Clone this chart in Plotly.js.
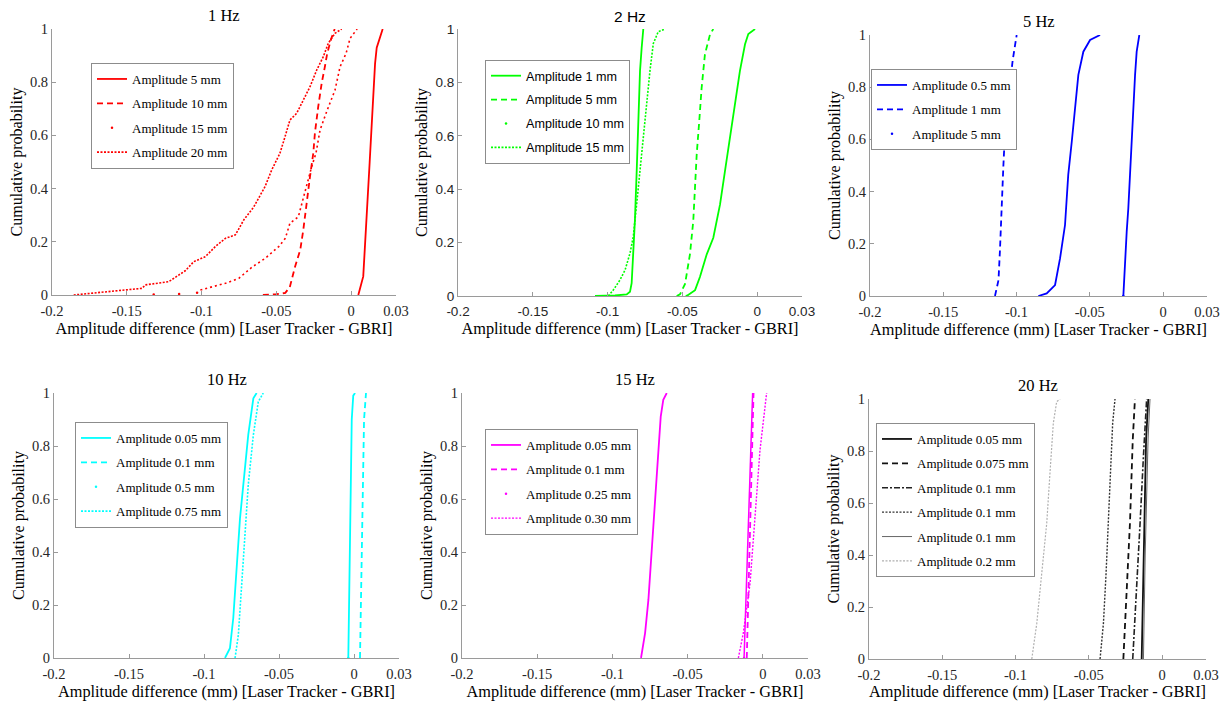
<!DOCTYPE html>
<html><head><meta charset="utf-8">
<script src="https://cdn.plot.ly/plotly-3.0.1.min.js"></script>
<style>html,body{margin:0;padding:0;background:#fff}#chart{width:1227px;height:701px}</style>
</head><body><div id="chart"></div>
<script>
// ---------- tick labels ----------
const xTickVals = [-0.2, -0.15, -0.1, -0.05, 0, 0.03];
const xTickText = ['-0.2', '-0.15', '-0.1', '-0.05', '0', '0.03'];
const yTickVals = [0, 0.2, 0.4, 0.6, 0.8, 1];
const yTickText = ['0', '0.2', '0.4', '0.6', '0.8', '1'];
const panelTitles = ['1 Hz', '2 Hz', '5 Hz', '10 Hz', '15 Hz', '20 Hz'];
const xTitle = 'Amplitude difference (mm) [Laser Tracker - GBRI]';
const yTitle = 'Cumulative probability';

// ---------- 1 Hz ----------
const hz1_a5_x = [0.0048, 0.0081, 0.0124, 0.0160, 0.0171, 0.0193, 0.0211];
const hz1_a5_y = [0, 0.07, 0.5, 0.87, 0.93, 0.97, 1];
const hz1_a10_x = [-0.059, -0.050, -0.044, -0.041, -0.0375, -0.034, -0.032, -0.0297, -0.0275, -0.0253, -0.0242, -0.022, -0.0197, -0.0175, -0.016, -0.0135, -0.011];
const hz1_a10_y = [0, 0.003, 0.008, 0.03, 0.106, 0.17, 0.244, 0.357, 0.445, 0.533, 0.61, 0.708, 0.796, 0.86, 0.908, 0.96, 1];
const hz1_a15_iso_x = [-0.132, -0.115, -0.103];
const hz1_a15_iso_y = [0.002, 0.004, 0.008];
const hz1_a15_x = [-0.1008, -0.093, -0.084, -0.075, -0.066, -0.0574, -0.0484, -0.044, -0.0409, -0.0353, -0.033, -0.0297, -0.0264, -0.0235, -0.0208, -0.016, -0.0108, -0.0074, -0.0034, -0.0007, 0.004];
const hz1_a15_y = [0.019, 0.031, 0.044, 0.063, 0.106, 0.138, 0.182, 0.213, 0.27, 0.294, 0.345, 0.42, 0.482, 0.533, 0.62, 0.695, 0.77, 0.858, 0.908, 0.965, 1];
const hz1_a20_x = [-0.1855, -0.173, -0.1577, -0.151, -0.1398, -0.1376, -0.122, -0.1153, -0.1109, -0.1053, -0.0975, -0.0908, -0.0841, -0.0774, -0.0718, -0.0652, -0.0576, -0.0531, -0.0476, -0.0442, -0.0409, -0.0364, -0.033, -0.0275, -0.023, -0.0186, -0.0153, -0.0108, -0.0063];
const hz1_a20_y = [0, 0.006, 0.013, 0.019, 0.025, 0.038, 0.05, 0.075, 0.091, 0.125, 0.144, 0.182, 0.213, 0.226, 0.282, 0.33, 0.407, 0.47, 0.533, 0.595, 0.658, 0.683, 0.72, 0.783, 0.846, 0.896, 0.946, 0.984, 1];

// ---------- 2 Hz ----------
const hz2_a1_x = [-0.1084, -0.095, -0.0872, -0.085, -0.0839, -0.0828, -0.0817, -0.0805, -0.0795, -0.0783, -0.0772, -0.0761];
const hz2_a1_y = [0, 0.002, 0.006, 0.016, 0.048, 0.16, 0.285, 0.472, 0.655, 0.843, 0.93, 1];
const hz2_a5_x = [-0.0538, -0.0516, -0.0482, -0.0449, -0.0427, -0.0415, -0.0404, -0.0387, -0.0371, -0.0349, -0.0315, -0.0293];
const hz2_a5_y = [0, 0.006, 0.045, 0.157, 0.281, 0.406, 0.531, 0.655, 0.78, 0.905, 0.98, 1];
const hz2_a10_x = [-0.0471, -0.0415, -0.0382, -0.0337, -0.0293, -0.0248, -0.0215, -0.0181, -0.0148, -0.0115, -0.0081, -0.0059, -0.0014];
const hz2_a10_y = [0, 0.022, 0.072, 0.156, 0.218, 0.343, 0.468, 0.593, 0.718, 0.843, 0.943, 0.981, 1];
const hz2_a15_x = [-0.0995, -0.0962, -0.0917, -0.0883, -0.085, -0.0828, -0.0805, -0.0783, -0.0761, -0.0738, -0.0716, -0.0694, -0.0661, -0.0616];
const hz2_a15_y = [0, 0.022, 0.06, 0.097, 0.16, 0.222, 0.347, 0.472, 0.597, 0.721, 0.846, 0.946, 0.99, 1];

// ---------- 5 Hz ----------
const hz5_a05_x = [-0.0851, -0.0794, -0.0737, -0.0703, -0.0669, -0.0647, -0.0623, -0.0601, -0.0578, -0.0544, -0.0498, -0.043];
const hz5_a05_y = [0, 0.01, 0.042, 0.144, 0.272, 0.464, 0.591, 0.719, 0.847, 0.936, 0.981, 1];
const hz5_a1_x = [-0.1147, -0.1123, -0.1113, -0.1101, -0.109, -0.1079, -0.1063, -0.1044, -0.1026, -0.0999];
const hz5_a1_y = [0, 0.061, 0.176, 0.368, 0.495, 0.623, 0.75, 0.814, 0.904, 1];
const hz5_a5_x = [-0.0271, -0.026, -0.0248, -0.0237, -0.0226, -0.0214, -0.0203, -0.0191, -0.018, -0.0162];
const hz5_a5_y = [0, 0.144, 0.247, 0.336, 0.464, 0.591, 0.719, 0.847, 0.936, 1];

// ---------- 10 Hz ----------
const hz10_a005_x = [-0.086, -0.0827, -0.0805, -0.0782, -0.076, -0.0738, -0.0705, -0.0671, -0.0649];
const hz10_a005_y = [0, 0.037, 0.15, 0.339, 0.527, 0.653, 0.842, 0.98, 1];
const hz10_a01_x = [0.004, 0.0058, 0.0067, 0.008];
const hz10_a01_y = [0, 0.527, 0.9, 1];
const hz10_a05_x = [-0.0038, -0.0027, -0.0015, -0.0005, 0.0007];
const hz10_a05_y = [0, 0.4, 0.9, 0.99, 1];
const hz10_a075_x = [-0.0793, -0.0771, -0.0749, -0.0727, -0.0705, -0.0671, -0.0638, -0.0605];
const hz10_a075_y = [0, 0.087, 0.275, 0.464, 0.653, 0.842, 0.967, 1];

// ---------- 15 Hz ----------
const hz15_a005_x = [-0.081, -0.0783, -0.0761, -0.0739, -0.0717, -0.0695, -0.0679, -0.0662, -0.0639];
const hz15_a005_y = [0, 0.094, 0.219, 0.408, 0.596, 0.785, 0.911, 0.974, 1];
const hz15_a01_x = [-0.0107, -0.0085, -0.0062];
const hz15_a01_y = [0, 0.533, 1];
const hz15_a025_x = [-0.0125, -0.0095, -0.0068];
const hz15_a025_y = [0, 0.5, 1];
const hz15_a030_x = [-0.0163, -0.013, -0.0085, -0.0052, -0.0019, 0.0025];
const hz15_a030_y = [0, 0.094, 0.283, 0.533, 0.785, 1];

// ---------- 20 Hz ----------
const hz20_a005_x = [-0.0139, -0.0127, -0.0109, -0.0094];
const hz20_a005_y = [0, 0.394, 0.842, 1];
const hz20_a0075_x = [-0.0264, -0.0241, -0.0219, -0.02, -0.0185];
const hz20_a0075_y = [0, 0.265, 0.522, 0.842, 1];
const hz20_a01a_x = [-0.02, -0.0173, -0.015, -0.0127, -0.0105];
const hz20_a01a_y = [0, 0.265, 0.522, 0.78, 1];
const hz20_a01b_x = [-0.0423, -0.04, -0.0382, -0.0367, -0.035, -0.0337, -0.0321];
const hz20_a01b_y = [0, 0.137, 0.33, 0.522, 0.714, 0.907, 1];
const hz20_a01c_x = [-0.0127, -0.0115, -0.0095, -0.0082];
const hz20_a01c_y = [0, 0.4, 0.85, 1];
const hz20_a02_x = [-0.0889, -0.0855, -0.0821, -0.0787, -0.0765, -0.0742, -0.0719, -0.0696];
const hz20_a02_y = [0, 0.137, 0.33, 0.522, 0.714, 0.907, 0.99, 1];

// ---------- layout helpers ----------
const W = 1227, H = 701;
const px = v => v / W;
const py = v => 1 - v / H;
const SERIF = 'Liberation Serif, Times New Roman, serif';
const SANS = 'Liberation Sans, Arial, sans-serif';
const DOT = '2px,1.5px';

// plot areas [left, top, right, bottom] in pixels
const boxes = [
  [52, 29, 396, 295], [458, 29, 802, 296], [870, 35, 1207, 296],
  [54, 393, 399, 658], [462, 393, 808, 658], [869, 399, 1206, 659]
];
const tickFonts = [SERIF, SANS, SERIF, SERIF, SERIF, SERIF];
const tickSizes = [14.5, 13.5, 14.5, 14.5, 14.5, 14.5];
const legSizes = [13, 12.6, 13, 13, 13, 13];
const titleSizes = [16.5, 15.5, 16.5, 16.5, 16.5, 16.5];
const legendBoxes = [[91, 63], [485, 60], [871, 69], [75, 422], [485, 429], [876, 423]];

const traces = [];
let gid = 0;
function line(panel, name, xs, ys, color, dash, width) {
  const n = panel + 1;
  traces.push({
    type: 'scatter', mode: 'lines', x: xs, y: ys, name: name,
    xaxis: 'x' + (n === 1 ? '' : n), yaxis: 'y' + (n === 1 ? '' : n),
    legend: n === 1 ? 'legend' : 'legend' + n, legendgroup: 'g' + (gid++),
    line: {color: color, dash: dash || 'solid', width: width || 1.5},
    hoverinfo: 'x+y'
  });
}
// marker-style series: drawn curve plus a dot legend entry
function dots(panel, name, xs, ys, color, lineDash, width, isoX, isoY) {
  const n = panel + 1;
  const g = 'g' + (gid++);
  const ax = {xaxis: 'x' + (n === 1 ? '' : n), yaxis: 'y' + (n === 1 ? '' : n)};
  const lg = n === 1 ? 'legend' : 'legend' + n;
  traces.push(Object.assign({
    type: 'scatter', mode: 'lines', x: xs, y: ys, name: name, showlegend: false,
    legend: lg, legendgroup: g, line: {color: color, dash: lineDash, width: width}
  }, ax));
  traces.push(Object.assign({
    type: 'scatter', mode: 'markers', x: isoX || [xs[0]], y: isoY || [ys[0]], name: name,
    legend: lg, legendgroup: g, marker: {color: color, size: 2.5}
  }, ax));
}

const RED = '#ff0000', GRN = '#00ff00', BLU = '#0000ff', CYN = '#00ffff', MAG = '#ff00ff';
line(0, 'Amplitude 5 mm', hz1_a5_x, hz1_a5_y, RED, 'solid', 1.8);
line(0, 'Amplitude 10 mm', hz1_a10_x, hz1_a10_y, RED, '6px,4px', 1.8);
dots(0, 'Amplitude 15 mm', hz1_a15_x, hz1_a15_y, RED, '2px,3px', 1.6, hz1_a15_iso_x, hz1_a15_iso_y);
line(0, 'Amplitude 20 mm', hz1_a20_x, hz1_a20_y, RED, DOT, 1.6);

line(1, 'Amplitude 1 mm', hz2_a1_x, hz2_a1_y, GRN, 'solid', 1.8);
line(1, 'Amplitude 5 mm', hz2_a5_x, hz2_a5_y, GRN, '6px,4px', 1.8);
dots(1, 'Amplitude 10 mm', hz2_a10_x, hz2_a10_y, GRN, 'solid', 1.8);
line(1, 'Amplitude 15 mm', hz2_a15_x, hz2_a15_y, GRN, DOT, 1.6);

line(2, 'Amplitude 0.5 mm', hz5_a05_x, hz5_a05_y, BLU, 'solid', 1.8);
line(2, 'Amplitude 1 mm', hz5_a1_x, hz5_a1_y, BLU, '6px,4px', 1.8);
dots(2, 'Amplitude 5 mm', hz5_a5_x, hz5_a5_y, BLU, 'solid', 1.8);

line(3, 'Amplitude 0.05 mm', hz10_a005_x, hz10_a005_y, CYN, 'solid', 1.8);
line(3, 'Amplitude 0.1 mm', hz10_a01_x, hz10_a01_y, CYN, '6px,4px', 1.8);
dots(3, 'Amplitude 0.5 mm', hz10_a05_x, hz10_a05_y, CYN, 'solid', 1.8);
line(3, 'Amplitude 0.75 mm', hz10_a075_x, hz10_a075_y, CYN, DOT, 1.6);

line(4, 'Amplitude 0.05 mm', hz15_a005_x, hz15_a005_y, MAG, 'solid', 1.8);
line(4, 'Amplitude 0.1 mm', hz15_a01_x, hz15_a01_y, MAG, '6px,4px', 1.8);
dots(4, 'Amplitude 0.25 mm', hz15_a025_x, hz15_a025_y, MAG, 'solid', 1.5);
line(4, 'Amplitude 0.30 mm', hz15_a030_x, hz15_a030_y, MAG, DOT, 1.4);

line(5, 'Amplitude 0.05 mm', hz20_a005_x, hz20_a005_y, '#111111', 'solid', 1.8);
line(5, 'Amplitude 0.075 mm', hz20_a0075_x, hz20_a0075_y, '#111111', '6px,4px', 1.8);
line(5, 'Amplitude 0.1 mm', hz20_a01a_x, hz20_a01a_y, '#222222', '6px,2px,2px,2px', 1.6);
line(5, 'Amplitude 0.1 mm', hz20_a01b_x, hz20_a01b_y, '#333333', DOT, 1.4);
line(5, 'Amplitude 0.1 mm', hz20_a01c_x, hz20_a01c_y, '#666666', 'solid', 1.0);
line(5, 'Amplitude 0.2 mm', hz20_a02_x, hz20_a02_y, '#b0b0b0', DOT, 1.2);

const layout = {
  width: W, height: H, margin: {l: 0, r: 0, t: 0, b: 0},
  paper_bgcolor: '#fff', plot_bgcolor: '#fff', showlegend: true, annotations: []
};
boxes.forEach((b, i) => {
  const n = i + 1, s = n === 1 ? '' : n;
  const tf = tickFonts[i];
  layout['xaxis' + s] = {
    domain: [px(b[0]), px(b[2])], anchor: 'y' + s, range: [-0.2, 0.03],
    tickmode: 'array', tickvals: xTickVals, ticktext: xTickText,
    ticks: 'inside', ticklen: 4, tickcolor: '#9a9a9a', showline: true, linecolor: '#9a9a9a', linewidth: 1,
    showgrid: false, zeroline: false, fixedrange: true, ticklabelstandoff: 3,
    tickfont: {family: tf, size: tickSizes[i], color: '#262626'},
    title: {text: xTitle, font: {family: SERIF, size: 16.3, color: '#000'}, standoff: 0}
  };
  layout['yaxis' + s] = {
    domain: [py(b[3]), py(b[1])], anchor: 'x' + s, range: [0, 1],
    tickmode: 'array', tickvals: yTickVals, ticktext: yTickText,
    ticks: 'inside', ticklen: 4, tickcolor: '#9a9a9a', showline: true, linecolor: '#9a9a9a', linewidth: 1,
    showgrid: false, zeroline: false, fixedrange: true,
    tickfont: {family: tf, size: tickSizes[i], color: '#262626'},
    title: {text: yTitle, font: {family: SERIF, size: 16, color: '#000'}, standoff: 3}
  };
  layout.annotations.push({
    text: panelTitles[i], xref: 'paper', yref: 'paper', showarrow: false,
    x: px((b[0] + b[2]) / 2), y: py(b[1] - 2), xanchor: 'center', yanchor: 'bottom',
    font: {family: tf, size: titleSizes[i], color: '#000'}
  });
  const lb = legendBoxes[i];
  layout[n === 1 ? 'legend' : 'legend' + n] = {
    x: px(lb[0]), y: py(lb[1]), xanchor: 'left', yanchor: 'top',
    bgcolor: '#fff', bordercolor: '#8c8c8c', borderwidth: 1,
    font: {family: tf, size: legSizes[i], color: '#000'},
    itemwidth: 30, traceorder: 'grouped', tracegroupgap: 4.5
  };
});

Plotly.newPlot('chart', traces, layout, {staticPlot: true, displayModeBar: false});
</script></body></html>
